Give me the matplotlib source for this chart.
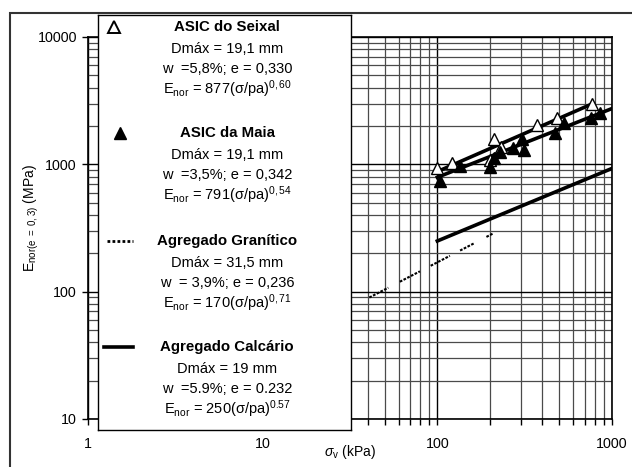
import numpy as np
import matplotlib
matplotlib.use("Agg")
import matplotlib.pyplot as plt
from matplotlib.patches import Rectangle
from matplotlib.ticker import LogLocator, FixedLocator, NullFormatter

plt.rcParams['font.family'] = ['Liberation Sans', 'DejaVu Sans']
plt.rcParams['mathtext.fontset'] = 'custom'
plt.rcParams['mathtext.rm'] = 'Liberation Sans'
plt.rcParams['mathtext.it'] = 'Liberation Sans:italic'
plt.rcParams['mathtext.bf'] = 'Liberation Sans:bold'

# ASIC do Seixal (open triangles)
seixal_s = [100, 122, 200, 211, 233, 370, 482, 764]
seixal_E = [930, 1020, 1080, 1570, 1360, 2030, 2300, 2980]
# ASIC da Maia (filled triangles)
maia_s = [103, 134, 200, 211, 228, 272, 313, 304, 470, 530, 757, 853]
maia_E = [745, 970, 950, 1120, 1260, 1340, 1300, 1570, 1775, 2100, 2300, 2550]

# fitted laws E = k (sigma/pa)^n, pa = 100 kPa
pa = 100.0
seixal_k, seixal_n, seixal_range = 877, 0.60, (100, 770)
maia_k, maia_n, maia_range = 791, 0.54, (100, 1000)
calc_k, calc_n, calc_range = 250, 0.57, (100, 1000)
gran_k, gran_n = 170, 0.71
gran_segments = [(40.8, 52.4), (61, 79.5), (91.6, 118), (135, 163), (191, 207)]

fig = plt.figure(figsize=(6.32, 4.67), dpi=100)
W, H = 632.0, 467.0
ax = fig.add_axes([88 / W, 1 - 419 / H, (612 - 88) / W, (419 - 37) / H])
ax.set_xscale('log')
ax.set_yscale('log')
ax.set_xlim(1, 1000)
ax.set_ylim(10, 10000)

ax.grid(True, which='major', color='black', lw=1.0)
ax.grid(True, which='minor', color='#4a4a4a', lw=0.9)
ax.set_axisbelow(True)

def law(k, n, s):
    return k * (np.asarray(s) / pa) ** n

s = np.geomspace(*seixal_range, 50)
ax.plot(s, law(seixal_k, seixal_n, s), color='black', lw=2.6, zorder=3)
s = np.geomspace(*maia_range, 50)
ax.plot(s, law(maia_k, maia_n, s), color='black', lw=2.6, zorder=3)
s = np.geomspace(*calc_range, 50)
ax.plot(s, law(calc_k, calc_n, s), color='black', lw=2.6, zorder=3)
for a, b in gran_segments:
    s = np.geomspace(a, b, 20)
    ax.plot(s, law(gran_k, gran_n, s), color='black', lw=1.5,
            ls=(0, (1.3, 0.7)), zorder=3)

ax.plot(seixal_s, seixal_E, ls='none', marker='^', ms=8, mfc='white',
        mec='black', mew=1.0, zorder=4)
ax.plot(maia_s, maia_E, ls='none', marker='^', ms=8, mfc='black',
        mec='black', zorder=4)

ax.xaxis.set_major_locator(FixedLocator([1, 10, 100, 1000]))
ax.set_xticklabels(['1', '10', '100', '1000'])
ax.yaxis.set_major_locator(FixedLocator([10, 100, 1000, 10000]))
ax.set_yticklabels(['10', '100', '1000', '10000'])
ax.xaxis.set_minor_locator(LogLocator(base=10, subs=np.arange(2, 10)))
ax.yaxis.set_minor_locator(LogLocator(base=10, subs=np.arange(2, 10)))
ax.xaxis.set_minor_formatter(NullFormatter())
ax.yaxis.set_minor_formatter(NullFormatter())
ax.tick_params(axis='x', which='both', direction='out', length=4, width=1,
               labelsize=10.3, pad=9)
ax.tick_params(axis='y', which='major', direction='out', length=4, width=1,
               labelsize=10.3, pad=4)
ax.tick_params(axis='y', which='minor', length=0)
for sp in ax.spines.values():
    sp.set_linewidth(1.2)

fig.text(350 / W, 1 - 452 / H, r'$\sigma_{\mathrm{v}}$ (kPa)', ha='center',
         va='center', fontsize=10)
fig.text(31 / W, 1 - 218 / H, r'E$_{\mathrm{nor(e\ =\ 0,3)}}$ (MPa)',
         rotation=90, ha='center', va='center', fontsize=10)

# legend box
lg = fig.add_axes([98 / W, 1 - 430 / H, (351 - 98) / W, (430 - 15) / H],
                  zorder=5)
lg.set_xlim(98, 351)
lg.set_ylim(430, 15)
lg.set_xticks([])
lg.set_yticks([])
lg.set_facecolor('white')
for sp in lg.spines.values():
    sp.set_linewidth(1.0)

cx = 227
entries = [
    ('ASIC do Seixal', 'Dmáx = 19,1 mm', 'w  =5,8%; e = 0,330',
     r'E$_{\mathrm{nor}}$ = 877(σ/pa)$^{\mathrm{0,60}}$', 27),
    ('ASIC da Maia', 'Dmáx = 19,1 mm', 'w  =3,5%; e = 0,342',
     r'E$_{\mathrm{nor}}$ = 791(σ/pa)$^{\mathrm{0,54}}$', 133),
    ('Agregado Granítico', 'Dmáx = 31,5 mm', 'w  = 3,9%; e = 0,236',
     r'E$_{\mathrm{nor}}$ = 170(σ/pa)$^{\mathrm{0,71}}$', 241),
    ('Agregado Calcário', 'Dmáx = 19 mm', 'w  =5.9%; e = 0.232',
     r'E$_{\mathrm{nor}}$ = 250(σ/pa)$^{\mathrm{0.57}}$', 347),
]
for head, d, w, e, y0 in entries:
    lg.text(cx, y0, head, ha='center', va='center', fontsize=10.8,
            fontweight='bold')
    lg.text(cx, y0 + 22, d, ha='center', va='center', fontsize=10.5)
    lg.text(cx, y0 + 42, w, ha='center', va='center', fontsize=10.5)
    lg.text(cx, y0 + 67, e, ha='center', va='baseline', fontsize=10.5)

lg.plot([114], [27], marker='^', ms=9, mfc='white', mec='black', mew=1.4)
lg.plot([120], [133], marker='^', ms=9, mfc='black', mec='black')
lg.plot([107, 133], [241, 241], color='black', lw=2.0, ls=(0, (1, 0.8)))
lg.plot([104, 133], [347, 347], color='black', lw=2.6)

# outer frame
fig.add_artist(Rectangle((10 / W, -0.1), 1.0, 1 - 13 / H + 0.1,
                         transform=fig.transFigure, fill=False,
                         lw=1.5, ec='#333333', clip_on=False))

fig.savefig('out.png', dpi=100)
